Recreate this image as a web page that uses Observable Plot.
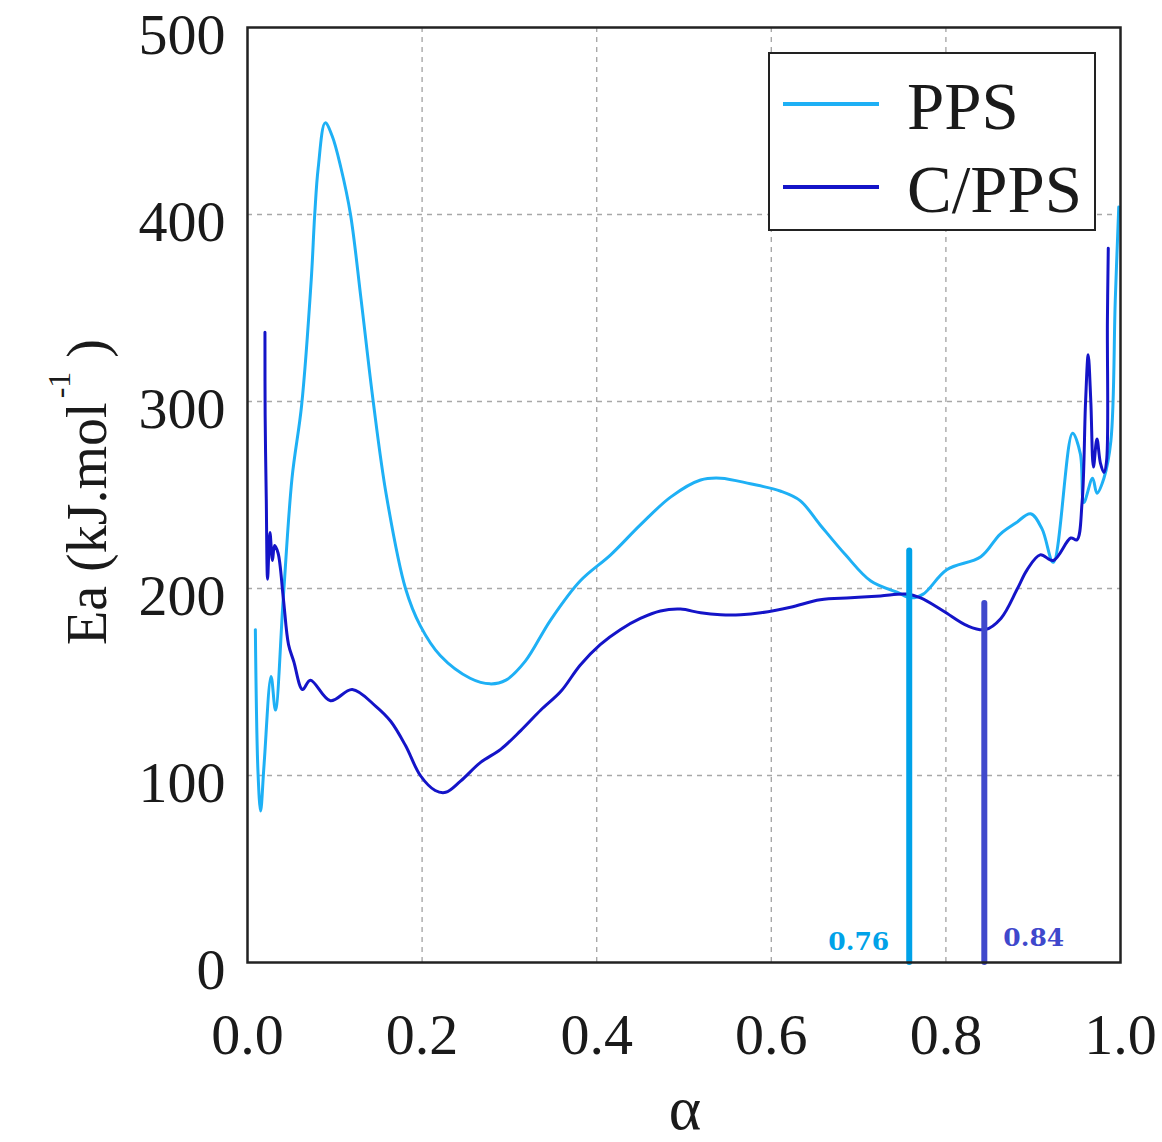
<!DOCTYPE html>
<html><head><meta charset="utf-8">
<script src="https://cdn.jsdelivr.net/npm/d3@7"></script>
<script src="https://cdn.jsdelivr.net/npm/@observablehq/plot@0.6"></script>
<style>
body{margin:0;background:#fff;}
#wrap{position:relative;width:1162px;height:1142px;font-family:"Liberation Serif",serif;color:#1a1a1a;}
#legend{position:absolute;left:768px;top:52px;width:324px;height:175px;border:2.5px solid #222;background:#fff;}
.lg-row{position:absolute;left:0;height:60px;}
.lg-line{position:absolute;left:13px;width:96px;height:4px;}
.lg-text{position:absolute;left:137px;font-size:67px;line-height:64px;white-space:nowrap;}
#ylabel{position:absolute;left:80px;top:492px;transform:translate(-50%,-50%) rotate(-90deg);font-size:56px;white-space:nowrap;}
#ylabel sup{font-size:32px;vertical-align:36px;margin-left:4px;}
#xlabel{position:absolute;left:685px;top:1108px;transform:translate(-50%,-50%);font-size:62px;}
</style></head><body><div id="wrap"></div>
<script>
// ---- data ----
const ppsAlpha = [0.009,0.012,0.015,0.019,0.027,0.032,0.041,0.051,0.062,0.073,0.077,0.081,0.089,0.097,0.107,0.118,0.130,0.144,0.159,0.181,0.198,0.221,0.255,0.278,0.296,0.318,0.347,0.381,0.416,0.450,0.485,0.519,0.542,0.576,0.611,0.633,0.656,0.685,0.714,0.744,0.760,0.774,0.801,0.840,0.862,0.880,0.897,0.910,0.923,0.945,0.954,0.958,0.968,0.973,0.981,0.989,0.994,0.998];
const ppsEa    = [178,102,81,106,153,135,195,259,298,365,400,425,449,442,425,400,355,300,250,200,180,164,152,149,151,161,183,204,218,234,249,258,259,256,252,247,234,218,204,198,195,197,210,217,229,235,240,232,214,283,272,246,259,251,259,279,354,404];
const cppsAlpha = [0.020,0.0202,0.0215,0.023,0.0257,0.0286,0.031,0.035,0.041,0.047,0.053,0.063,0.072,0.095,0.120,0.147,0.164,0.181,0.198,0.215,0.227,0.244,0.267,0.290,0.313,0.336,0.359,0.381,0.404,0.427,0.450,0.473,0.496,0.519,0.542,0.565,0.588,0.622,0.656,0.691,0.725,0.754,0.771,0.797,0.825,0.845,0.863,0.882,0.893,0.908,0.923,0.943,0.950,0.956,0.960,0.963,0.966,0.969,0.973,0.977,0.981,0.984,0.985,0.986];
const cppsEa    = [337,293,248,205,230,215,223,219,195,170,161,146,151,140,146,137,129,116,100,92,91,97,107,114,124,135,145,159,170,178,184,188,189,187,186,186,187,190,194,195,196,197,195,188,180,178,184,200,210,218,215,227,226,246,300,325,300,265,280,267,262,268,343,382];
const markerAlpha = [0.758, 0.844];
const markerTop = [220, 192];
const markerLabelY = [11, 13];
const markerColors = ["#00a2e8", "#3f48cc"];
const markerLabels = ["0.76", "0.84"];
const xTicks = [0, 0.2, 0.4, 0.6, 0.8, 1.0];
const yTicks = [0, 100, 200, 300, 400, 500];
const seriesNames = ["PPS", "C/PPS"];
const seriesColors = ["#1eb0f5", "#1414c8"];

const pps = ppsAlpha.map((a, i) => ({a, e: ppsEa[i]}));
const cpps = cppsAlpha.map((a, i) => ({a, e: cppsEa[i]}));
const markers = markerAlpha.map((a, i) => ({a, top: markerTop[i], ly: markerLabelY[i], c: markerColors[i], label: markerLabels[i]}));

const chart = Plot.plot({
  width: 1162, height: 1142,
  marginLeft: 247, marginRight: 42, marginTop: 27, marginBottom: 180,
  style: {fontFamily: "'Liberation Serif', serif", fontSize: "58px", color: "#1a1a1a", background: "white"},
  x: {domain: [0, 1]},
  y: {domain: [0, 500]},
  color: {type: "identity"},
  marks: [
    Plot.gridX(xTicks.slice(1, -1), {stroke: "#a8a8a8", strokeOpacity: 1, strokeWidth: 1.4, strokeDasharray: "5,5"}),
    Plot.gridY(yTicks.slice(1, -1), {stroke: "#a8a8a8", strokeOpacity: 1, strokeWidth: 1.4, strokeDasharray: "5,5"}),
    Plot.axisX(xTicks, {tickSize: 0, tickPadding: 50, tickFormat: d => d.toFixed(1), label: null}),
    Plot.axisY(yTicks, {tickSize: 0, tickPadding: 22, dy: 8, label: null}),
    Plot.line(pps, {x: "a", y: "e", stroke: seriesColors[0], strokeWidth: 3, curve: "catmull-rom"}),
    Plot.line(cpps, {x: "a", y: "e", stroke: seriesColors[1], strokeWidth: 3, curve: "catmull-rom"}),
    Plot.ruleX(markers, {x: "a", y1: 0, y2: "top", stroke: d => d.c, strokeWidth: 6, strokeLinecap: "round"}),
    Plot.text(markers.slice(0, 1), {x: "a", y: "ly", text: "label", fill: d => d.c, textAnchor: "end", dx: -20, fontFamily: "'DejaVu Serif', serif", fontWeight: "bold", fontSize: 25}),
    Plot.text(markers.slice(1), {x: "a", y: "ly", text: "label", fill: d => d.c, textAnchor: "start", dx: 19, fontFamily: "'DejaVu Serif', serif", fontWeight: "bold", fontSize: 25}),
    Plot.frame({stroke: "#222", strokeWidth: 2.5})
  ]
});
const wrap = document.getElementById("wrap");
wrap.appendChild(chart);

const legend = document.createElement("div");
legend.id = "legend";
seriesNames.forEach((name, i) => {
  const row = document.createElement("div");
  row.className = "lg-row";
  row.style.top = (i === 0 ? 20 : 103) + "px";
  row.innerHTML = `<div class="lg-line" style="top:28px;background:${seriesColors[i]}"></div><div class="lg-text" style="top:0px">${name}</div>`;
  legend.appendChild(row);
});
wrap.appendChild(legend);

const yl = document.createElement("div");
yl.id = "ylabel";
yl.innerHTML = "Ea (kJ.mol<sup>-1</sup> )";
wrap.appendChild(yl);
const xl = document.createElement("div");
xl.id = "xlabel";
xl.textContent = "α";
wrap.appendChild(xl);
</script></body></html>
